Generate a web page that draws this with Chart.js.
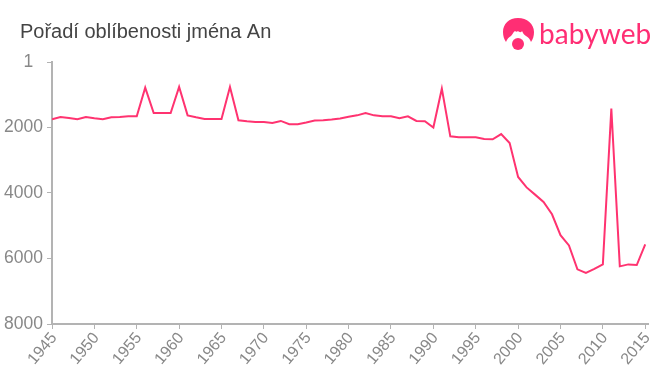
<!DOCTYPE html>
<html lang="cs"><head><meta charset="utf-8">
<style>
html,body{margin:0;padding:0;background:#fff;overflow:hidden}
#wrap{position:relative;width:660px;height:375px}
canvas{position:absolute;left:0;top:0}
#logo{position:absolute;left:500px;top:14px;width:36px;height:40px}
#logotext{position:absolute;left:539px;top:13px;font:400 28px/40px "Lato",sans-serif;color:#ff2e74;letter-spacing:0.1px}
</style>
<script src="https://cdn.jsdelivr.net/npm/chart.js@4"></script>
</head><body>
<div id="wrap">
<canvas id="c" width="660" height="375"></canvas>
<svg id="logo" viewBox="0 0 36 40"><path fill="#ff2e74" d="M18 4C9 4 3 10 3 18c0 4 1 7 3 10 1-3 3-5 5-6 2-2 2-4 4-5 1 1 2 1 3 0 1 1 3 2 4 0 1 2 2 4 4 5 2 1 4 3 5 6 2-3 3-6 3-10C34 10 27 4 18 4z"/><circle cx="18" cy="30" r="6" fill="#ff2e74"/></svg>
<div id="logotext">babyweb</div>
</div>
<script>
const titleText = "Pořadí oblíbenosti jména An";
const years = [1945,1946,1947,1948,1949,1950,1951,1952,1953,1954,1955,1956,1957,1958,1959,1960,1961,1962,1963,1964,1965,1966,1967,1968,1969,1970,1971,1972,1973,1974,1975,1976,1977,1978,1979,1980,1981,1982,1983,1984,1985,1986,1987,1988,1989,1990,1991,1992,1993,1994,1995,1996,1997,1998,1999,2000,2001,2002,2003,2004,2005,2006,2007,2008,2009,2010,2011,2012,2013,2014,2015];
const ranks = [1750,1680,1710,1750,1680,1720,1750,1690,1680,1660,1660,785,1557,1557,1557,763,1630,1690,1740,1740,1740,763,1780,1810,1830,1835,1860,1800,1900,1900,1850,1790,1780,1760,1725,1670,1630,1557,1630,1660,1660,1720,1660,1800,1810,2000,815,2270,2300,2300,2300,2350,2360,2200,2475,3510,3830,4050,4275,4650,5290,5600,6330,6440,6320,6180,1425,6240,6180,6200,5570];
const xTicks = [1945,1950,1955,1960,1965,1970,1975,1980,1985,1990,1995,2000,2005,2010,2015];
const yTicks = [1,2000,4000,6000,8000];
const axisColor = "#b3b3b3", labelColor = "#888888", lineColor = "#ff3370";

const titleIndent = { id: "titleIndent", afterLayout(chart) { chart.titleBlock.left = 20; } };

new Chart(document.getElementById("c"), {
  type: "line",
  plugins: [titleIndent],
  data: { datasets: [{ data: years.map((y,i)=>({x:y,y:ranks[i]})), borderColor: lineColor, borderWidth: 2, pointRadius: 0, tension: 0, fill: false }] },
  options: {
    responsive: false, animation: false,
    layout: { padding: { top: 0, right: 11, bottom: 0, left: 0 } },
    plugins: {
      legend: { display: false }, tooltip: { enabled: false },
      title: { display: true, text: titleText, align: "start", color: "#444444",
        font: { family: '"Liberation Sans"', size: 20, weight: "normal" }, padding: { top: 20, bottom: 18 } }
    },
    scales: {
      x: { type: "linear", min: 1945, max: 2015.4,
        afterBuildTicks: a => { a.ticks = xTicks.map(v=>({value:v})); },
        afterFit: a => { a.height = 51; },
        grid: { drawOnChartArea: false, color: axisColor, tickLength: 5, tickWidth: 1 },
        border: { color: axisColor, width: 2 },
        ticks: { color: labelColor, font: { family: '"Liberation Sans"', size: 16 }, minRotation: 50, maxRotation: 50, padding: 0, labelOffset: 2, autoSkip: false, callback: v => String(v) } },
      y: { type: "linear", reverse: true, min: 1, max: 8000,
        afterBuildTicks: a => { a.ticks = yTicks.map(v=>({value:v})); },
        afterFit: a => { a.width = 52; },
        grid: { drawOnChartArea: false, color: axisColor, tickLength: 5, tickWidth: 1 },
        border: { color: axisColor, width: 2 },
        ticks: { color: labelColor, font: { family: '"Liberation Sans"', size: 17.5 }, padding: 4, autoSkip: false, callback: v => v === 1 ? "1  " : String(v) } }
    }
  }
});
</script>
</body></html>
